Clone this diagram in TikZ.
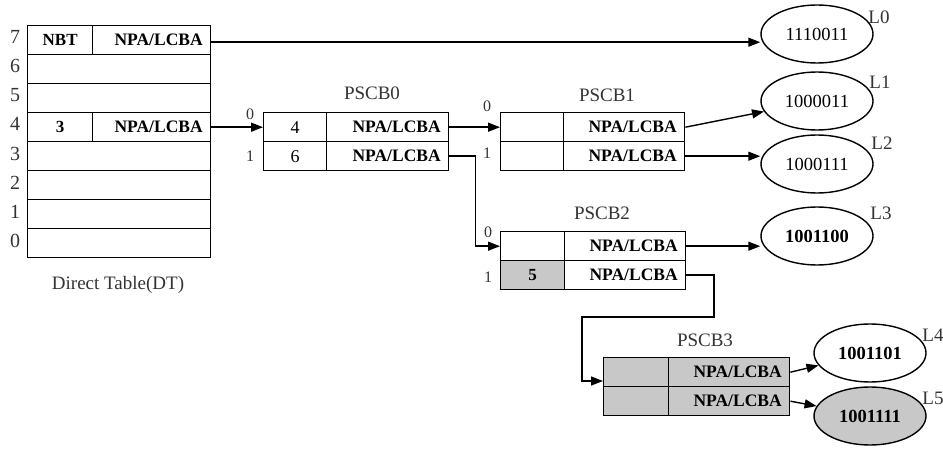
\documentclass[tikz,border=0pt]{standalone}
\usepackage{fontspec}
\setmainfont{Liberation Serif}
\usetikzlibrary{arrows.meta,shapes.geometric}
\definecolor{shade}{HTML}{C8C8C8}
\definecolor{lbl}{HTML}{333333}
\begin{document}
\begin{tikzpicture}[x=1pt,y=-1pt,
  cell/.style={draw, line width=1.4pt, minimum height=29pt, inner sep=0pt, anchor=north west},
  bcell/.style={cell, font=\bfseries\fontsize{17}{19}\selectfont},
  ncell/.style={cell, font=\fontsize{18}{20}\selectfont},
  rcell/.style={cell, font=\bfseries\fontsize{17.5}{19}\selectfont, text width=#1, align=right, inner xsep=8pt},
  gray/.style={fill=shade},
  leaf/.style={ellipse, draw, line width=1.4pt, minimum width=112pt, minimum height=58pt, inner sep=0pt, font=\fontsize{18.5}{20}\selectfont},
  bleaf/.style={leaf, font=\bfseries\fontsize{18.5}{20}\selectfont},
  tag/.style={text=lbl, font=\fontsize{19}{21}\selectfont, inner sep=0pt},
  rownum/.style={text=lbl, font=\fontsize{20}{22}\selectfont, inner sep=0pt},
  idx/.style={text=lbl, font=\fontsize{16}{18}\selectfont, inner sep=0pt},
  arr/.style={line width=1.4pt, -{Triangle[length=12pt,width=9pt]}}
]
\useasboundingbox (0,0) rectangle (943,449);

% Direct table
\node[bcell, minimum width=65pt] (dt7a) at (27,25) {NBT};
\node[rcell=102pt] (dt7b) at (92,25) {NPA/LCBA};
\node[cell, minimum width=183pt] (dt6) at (27,54) {};
\node[cell, minimum width=183pt] (dt5) at (27,83) {};
\node[bcell, minimum width=65pt] (dt4a) at (27,112) {3};
\node[rcell=102pt] (dt4b) at (92,112) {NPA/LCBA};
\node[cell, minimum width=183pt] (dt3) at (27,141) {};
\node[cell, minimum width=183pt] (dt2) at (27,170) {};
\node[cell, minimum width=183pt] (dt1) at (27,199) {};
\node[cell, minimum width=183pt] (dt0) at (27,228) {};
\foreach \i/\y in {7/37,6/66,5/95,4/124,3/154,2/183,1/212,0/241}
  \node[rownum] (dtn\i) at (15,\y) {\i};
\node[tag] (dtlabel) at (118,285) {Direct Table(DT)};

% PSCB0
\node[tag] (t0) at (372,93) {PSCB0};
\node[ncell, minimum width=63pt] (p0r0a) at (263,112) {4};
\node[rcell=106pt] (p0r0b) at (326,112) {NPA/LCBA};
\node[ncell, minimum width=63pt] (p0r1a) at (263,141) {6};
\node[rcell=106pt] (p0r1b) at (326,141) {NPA/LCBA};
\node[idx] (p0i0) at (250,114) {0};
\node[idx] (p0i1) at (250,156) {1};

% PSCB1
\node[tag] (t1) at (607,95) {PSCB1};
\node[cell, minimum width=63pt] (p1r0a) at (500,112) {};
\node[rcell=105pt] (p1r0b) at (563,112) {NPA/LCBA};
\node[cell, minimum width=63pt] (p1r1a) at (500,141) {};
\node[rcell=105pt] (p1r1b) at (563,141) {NPA/LCBA};
\node[idx] (p1i0) at (487,106) {0};
\node[idx] (p1i1) at (487,153) {1};

% PSCB2
\node[tag] (t2) at (602,213) {PSCB2};
\node[cell, minimum width=64pt] (p2r0a) at (500,231) {};
\node[rcell=105pt] (p2r0b) at (564,231) {NPA/LCBA};
\node[bcell, gray, minimum width=64pt] (p2r1a) at (500,260) {5};
\node[rcell=105pt] (p2r1b) at (564,260) {NPA/LCBA};
\node[idx] (p2i0) at (488,232) {0};
\node[idx] (p2i1) at (488,277) {1};

% PSCB3
\node[tag] (t3) at (705,340) {PSCB3};
\node[cell, gray, minimum width=65pt] (p3r0a) at (603,357) {};
\node[rcell=105pt, gray] (p3r0b) at (668,357) {NPA/LCBA};
\node[cell, gray, minimum width=65pt] (p3r1a) at (603,386) {};
\node[rcell=105pt, gray] (p3r1b) at (668,386) {NPA/LCBA};

% leaves
\node[leaf] (L0) at (817,34) {1110011};
\node[leaf] (L1) at (817,101) {1000011};
\node[leaf] (L2) at (817,164) {1000111};
\node[bleaf] (L3) at (817,236) {1001100};
\node[bleaf] (L4) at (870,353) {1001101};
\node[bleaf, gray] (L5) at (870,416) {1001111};
\node[tag] (l0) at (879,17) {L0};
\node[tag] (l1) at (880,82) {L1};
\node[tag] (l2) at (882,143) {L2};
\node[tag] (l3) at (881,213) {L3};
\node[tag] (l4) at (933,335) {L4};
\node[tag] (l5) at (933,398) {L5};

% connectors
\coordinate (dtout) at ([yshift=-2pt]dt7b.east);
\draw[arr] (dtout) -- (dtout -| L0.west);
\draw[arr] (dt4b.east) -- (p0r0a.west);
\draw[arr] (p0r0b.east) -- (p1r0a.west);
\draw[arr] (p0r1b.east) -- ++(26,0) |- (p2r0a.west);
\draw[arr] (p1r0b.east) -- (L1);
\draw[arr] (p1r1b.east) -- (p1r1b.east -| L2.west);
\draw[arr] (p2r0b.east) -- (p2r0b.east -| L3.west);
\coordinate (p3in) at (603,381);
\coordinate (bendA) at (714,317);
\coordinate (bendB) at (582,317);
\draw[arr] (p2r1b.east) -| (bendA) -- (bendB) |- (p3in);
\draw[arr] (p3r0b.east) -- (L4);
\draw[arr] (p3r1b.east) -- (L5);
\end{tikzpicture}
\end{document}
